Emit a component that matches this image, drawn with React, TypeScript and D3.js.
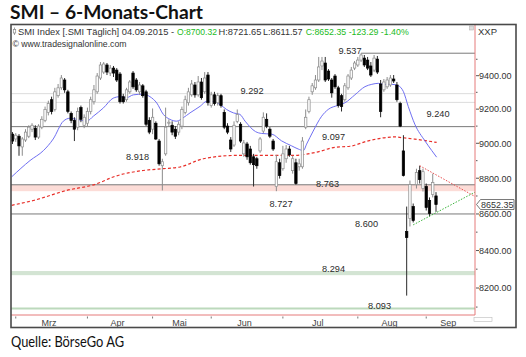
import React from "react";
import * as d3 from "d3";

const W = 526;
const H = 357;

// Daily OHLC, 27.02.2015 .. 04.09.2015 (131 trading days)
const open = [
  9053, 9025, 9041, 8979, 9019, 9041, 9082, 9088, 9036, 9094,
  9134, 9181, 9256, 9198, 9280, 9327, 9374, 9303, 9175, 9134,
  9094, 9209, 9105, 9117, 9186, 9244, 9303, 9386, 9422, 9465,
  9416, 9446, 9434, 9410, 9274, 9256, 9303, 9416, 9374, 9303,
  9339, 9303, 9134, 9082, 9117, 9013, 8871, 8939, 9117, 9105,
  9082, 9065, 9100, 9181, 9238, 9285, 9344, 9285, 9362, 9303,
  9404, 9221, 9285, 9238, 9280, 9181, 9100, 9019, 8990, 9128,
  9111, 8939, 8996, 8967, 8922, 8911, 8956, 9071, 9140, 9082,
  9013, 8753, 8888, 8854, 8911, 8967, 8843, 8888, 8865, 8865,
  9094, 9186, 9303, 9327, 9374, 9459, 9477, 9428, 9374, 9398,
  9327, 9280, 9256, 9327, 9386, 9446, 9465, 9495, 9507, 9495,
  9459, 9434, 9501, 9350, 9315, 9333, 9344, 9380, 9344, 9233,
  8956, 8503, 8575, 8641, 8764, 8843, 8742, 8753, 8675, 8708,
  8700.32,
];
const high = [
  9065, 9059, 9053, 9036, 9082, 9105, 9117, 9105, 9111, 9158,
  9215, 9250, 9274, 9327, 9350, 9404, 9386, 9315, 9186, 9152,
  9209, 9221, 9169, 9209, 9274, 9344, 9416, 9483, 9483, 9477,
  9465, 9459, 9446, 9422, 9291, 9327, 9374, 9428, 9386, 9362,
  9350, 9315, 9152, 9204, 9128, 9025, 8911, 9209, 9140, 9128,
  9100, 9128, 9215, 9280, 9327, 9374, 9362, 9398, 9386, 9422,
  9422, 9303, 9303, 9297, 9291, 9198, 9117, 9036, 9128, 9198,
  9123, 9019, 9008, 8985, 8939, 8922, 9036, 9181, 9175, 9094,
  9025, 8933, 8911, 8985, 8990, 8985, 8928, 8911, 8911, 9036,
  9198, 9274, 9356, 9404, 9514, 9514, 9514, 9440, 9386, 9410,
  9339, 9291, 9356, 9410, 9453, 9489, 9514, 9537, 9526, 9514,
  9483, 9526, 9520, 9374, 9380, 9392, 9404, 9404, 9362, 9244,
  9047, 8641, 8787, 8658, 8854, 8871, 8854, 8770, 8692, 8826,
  8721.65,
];
const low = [
  8996, 9008, 8928, 8928, 9008, 9030, 9065, 9019, 9025, 9082,
  9123, 9163, 9169, 9186, 9268, 9315, 9297, 9175, 9117, 9013,
  9076, 9123, 9088, 9100, 9169, 9227, 9291, 9374, 9410, 9404,
  9398, 9392, 9362, 9233, 9233, 9244, 9291, 9321, 9303, 9285,
  9268, 9100, 9053, 9053, 9019, 8871, 8731, 8928, 9100, 9047,
  9025, 9047, 9082, 9169, 9221, 9274, 9268, 9274, 9256, 9291,
  9221, 9209, 9221, 9221, 9209, 9082, 9053, 8950, 8979, 9117,
  9002, 8922, 8905, 8877, 8753, 8854, 8945, 9059, 9088, 9030,
  8956, 8727, 8798, 8843, 8888, 8922, 8826, 8763, 8843, 8854,
  9082, 9175, 9285, 9315, 9362, 9434, 9362, 9368, 9268, 9321,
  9209, 9186, 9244, 9315, 9374, 9434, 9453, 9483, 9453, 9434,
  9392, 9422, 9410, 9152, 9303, 9321, 9333, 9356, 9244, 9094,
  8810, 8160, 8531, 8553, 8742, 8770, 8725, 8619, 8586, 8692,
  8611.57,
];
const close = [
  9013, 9047, 8985, 9025, 9065, 9094, 9105, 9036, 9100, 9140,
  9198, 9233, 9186, 9303, 9327, 9386, 9315, 9186, 9134, 9082,
  9186, 9140, 9152, 9186, 9256, 9315, 9398, 9465, 9471, 9422,
  9446, 9416, 9374, 9244, 9244, 9315, 9362, 9333, 9315, 9344,
  9280, 9111, 9065, 9152, 9025, 8882, 8894, 9094, 9123, 9065,
  9041, 9111, 9198, 9256, 9303, 9350, 9285, 9362, 9268, 9386,
  9238, 9285, 9233, 9280, 9221, 9094, 9065, 8967, 9105, 9169,
  9013, 9002, 8922, 8888, 8877, 8871, 9025, 9152, 9100, 9041,
  8967, 8894, 8815, 8939, 8967, 8933, 8911, 8770, 8882, 9013,
  9152, 9256, 9339, 9374, 9453, 9489, 9374, 9380, 9297, 9333,
  9221, 9215, 9339, 9398, 9434, 9477, 9495, 9526, 9465, 9446,
  9404, 9507, 9422, 9186, 9362, 9374, 9386, 9368, 9256, 9100,
  8815, 8470, 8764, 8564, 8832, 8792, 8837, 8636, 8603, 8776,
  8652.35,
];

const monthLabels = ["Mrz", "Apr", "Mai", "Jun", "Jul", "Aug", "Sep"];
const monthStart = [1, 23, 43, 61, 83, 106, 127];
const lastVisibleIdx = 142;

const yTicks = [8200, 8400, 8600, 8800, 9000, 9200, 9400];
const yMinorTicks = [8100, 8300, 8500, 8700, 8900, 9100, 9300, 9500];

// 20-day moving average (blue) and 200-day moving average (red dashed): [index, value]
const maFast: [number, number][] = [
  [-0.25, 8808], [5.4, 8901], [9.5, 8958], [12.5, 9025], [15.6, 9129], [17.6, 9146],
  [19.7, 9140], [22.8, 9129], [24.8, 9158], [27.9, 9207], [30.9, 9265], [33, 9274],
  [35, 9268], [37.1, 9285], [40.1, 9289], [42.2, 9274], [44.3, 9236], [46.3, 9169],
  [48.3, 9140], [50.4, 9129], [52.4, 9149], [54.5, 9178], [57.6, 9217], [59.6, 9246],
  [61.6, 9246], [63.7, 9227], [65.7, 9198], [67.8, 9178], [69.8, 9169], [71.4, 9129],
  [74.6, 9068], [76.5, 9057], [79.6, 9053], [82.6, 9014], [85.7, 8985], [87.7, 8967],
  [89.3, 8958], [90.3, 8996], [92.3, 9071], [94.9, 9158], [96.9, 9198], [100, 9223],
  [102.1, 9238], [105.1, 9285], [108.2, 9334], [110.3, 9348], [112.3, 9354], [113.8, 9348],
  [116.4, 9348], [118.4, 9340], [120, 9304], [121.5, 9215], [123.5, 9111], [126.6, 9014],
  [128.7, 8958], [130.2, 8920],
];
const maSlow: [number, number][] = [
  [-0.25, 8648], [6.4, 8675], [16.6, 8731], [25.8, 8768], [30.9, 8807], [40.1, 8844],
  [46.3, 8854], [51.4, 8864], [58.6, 8911], [68.8, 8930], [86.1, 8930], [93.4, 8949],
  [99, 8977], [103.6, 8983], [109.2, 9014], [117.4, 9037], [119.5, 9033], [123.5, 9024],
  [130.2, 9005],
];

const trendDown: [number, number][] = [[125, 8871], [142, 8697]];
const trendUp: [number, number][] = [[123, 8540], [142, 8722]];

// Support / resistance levels
const levelValues = [9537, 9292, 9240, 9097, 8918, 8763, 8727, 8600, 8294, 8093];
const levelLabels = ["9.537", "9.292", "9.240", "9.097", "8.918", "8.763", "8.727", "8.600", "8.294", "8.093"];
const lastClose = 8652.35;

// layout (pixels)
const PL = 11, PR = 475, PT = 25, PB = 315;
const labelLayout: Record<string, { cx: number; dy: number }> = {
  "9.537": { cx: 350, dy: -2 },
  "9.292": { cx: 252, dy: -3 },
  "9.240": { cx: 438, dy: 11 },
  "9.097": { cx: 333.5, dy: 10.5 },
  "8.918": { cx: 137.5, dy: -0.5 },
  "8.763": { cx: 327.5, dy: -1 },
  "8.727": { cx: 281, dy: 12.5 },
  "8.600": { cx: 366.5, dy: 9.5 },
  "8.294": { cx: 333.5, dy: -1.2 },
  "8.093": { cx: 379.5, dy: -2.6 },
};

const FONT = "'Liberation Sans', Arial, sans-serif";

export default function App() {
  const x = d3.scaleLinear().domain([0, 130]).range([12.5, 436]);
  const y = d3.scaleLog().domain([8200, 9400]).range([288, 75.7]);

  const line = d3
    .line<[number, number]>()
    .x((d) => x(d[0]))
    .y((d) => y(d[1]));
  const smooth = d3
    .line<[number, number]>()
    .x((d) => x(d[0]))
    .y((d) => y(d[1]))
    .curve(d3.curveMonotoneX);

  const yLast = y(lastClose);

  return (
    <svg
      width={W}
      height={H}
      viewBox={`0 0 ${W} ${H}`}
      style={{ position: "absolute", left: 0, top: 0, background: "#fff" }}
      fontFamily={FONT}
    >
      <rect x={0} y={0} width={W} height={H} fill="#fff" />
      {/* Title */}
      <text x={10} y={18.5} fontFamily="Lato, 'Open Sans', sans-serif" fontWeight="bold" fontSize={19.5} textLength={193} lengthAdjust="spacingAndGlyphs" fill="#111">
        SMI – 6-Monats-Chart
      </text>

      <defs>
        <clipPath id="plotClip">
          <rect x={PL} y={PT} width={PR - PL} height={PB - PT} />
        </clipPath>
      </defs>

      {/* support / resistance bands and lines */}
      <g clipPath="url(#plotClip)">
        <rect x={PL} y={y(8763)} width={PR - PL} height={y(8727) - y(8763)} fill="#fcdcd7" />
        <rect x={PL} y={y(8290)} width={PR - PL} height={y(8268) - y(8290)} fill="#d3e4d3" />
        <line x1={PL} x2={PR} y1={y(8093)} y2={y(8093)} stroke="#bcd9bc" strokeWidth={2} />
        <line x1={PL} x2={PR} y1={y(9292)} y2={y(9292)} stroke="#dcdcdc" strokeWidth={1} />
        <line x1={PL} x2={PR} y1={y(9240)} y2={y(9240)} stroke="#dcdcdc" strokeWidth={1} />
        <line x1={PL} x2={PR} y1={y(9097)} y2={y(9097)} stroke="#7a7a7a" strokeWidth={1} />
        <line x1={PL} x2={PR} y1={y(8763)} y2={y(8763)} stroke="#7a7a7a" strokeWidth={1} />
        <line x1={PL} x2={PR} y1={y(8600)} y2={y(8600)} stroke="#7a7a7a" strokeWidth={1} />
        <line x1={x(107)} x2={PR} y1={y(9537)} y2={y(9537)} stroke="#7a7a7a" strokeWidth={1} />

        {/* 200-day MA */}
        <path d={smooth(maSlow) || ""} fill="none" stroke="#e8302a" strokeWidth={1.2} strokeDasharray="3,2.2" />
        {/* 20-day MA */}
        <path d={smooth(maFast) || ""} fill="none" stroke="#6f6ff2" strokeWidth={1} />

        {/* candles */}
        {open.map((o, i) => {
          const c = close[i];
          const up = c >= o;
          const cx = x(i);
          const yt = y(Math.max(o, c));
          const yb = y(Math.min(o, c));
          return (
            <g key={i}>
              <line x1={cx} x2={cx} y1={y(high[i])} y2={y(low[i])} stroke={up ? "#8c8c8c" : "#2a2a2a"} strokeWidth={1} />
              <rect
                x={cx - 1.2}
                y={yt}
                width={2.4}
                height={Math.max(yb - yt, 0.8)}
                fill={up ? "#fbfbfb" : "#000"}
                stroke={up ? "#8c8c8c" : "#000"}
                strokeWidth={0.7}
              />
            </g>
          );
        })}

        {/* triangle trend lines */}
        <path d={line(trendDown) || ""} fill="none" stroke="#e85050" strokeWidth={1} strokeDasharray="1.5,1.5" />
        <path d={line(trendUp) || ""} fill="none" stroke="#3cb43c" strokeWidth={1} strokeDasharray="1.5,1.5" />
      </g>

      {/* level labels */}
      {levelValues.map((v, k) => {
        const lab = levelLabels[k];
        const L = labelLayout[lab];
        return (
          <text key={lab} x={L.cx} y={y(v) + L.dy + 3.2} textAnchor="middle" fontSize={9.2} fill="#2b2b2b">
            {lab}
          </text>
        );
      })}

      {/* header */}
      <g fontSize={9}>
        <line x1={14.5} x2={14.5} y1={27.5} y2={35} stroke="#888" strokeWidth={0.8} />
        <rect x={13.3} y={29.5} width={2.4} height={3.5} fill="#fff" stroke="#888" strokeWidth={0.7} />
        <text x={18} y={34.5} fill="#333" textLength={156} lengthAdjust="spacingAndGlyphs">SMI Index [.SMI  Täglich] 04.09.2015 -</text>
        <text x={177} y={34.5} fill="#22bb22" textLength={40} lengthAdjust="spacingAndGlyphs">O:8700.32</text>
        <text x={218.5} y={34.5} fill="#333" textLength={43} lengthAdjust="spacingAndGlyphs">H:8721.65</text>
        <text x={263} y={34.5} fill="#333" textLength={39.5} lengthAdjust="spacingAndGlyphs">L:8611.57</text>
        <text x={305.7} y={34.5} fill="#22bb22" textLength={103} lengthAdjust="spacingAndGlyphs">C:8652.35 -123.29 -1.40%</text>
        <text x={12.5} y={46.5} fill="#333" textLength={114} lengthAdjust="spacingAndGlyphs">© www.tradesignalonline.com</text>
        <rect x={469.5} y={26} width={4} height={4} fill="#ddd" stroke="#aaa" strokeWidth={0.5} />
        <text x={478} y={34.5} fill="#333" fontSize={9.5}>XXP</text>
      </g>

      {/* plot border (red) */}
      <line x1={PR} x2={PR} y1={PT} y2={PB} stroke="#e57a7a" strokeWidth={1} />
      <line x1={PL} x2={PR} y1={PB} y2={PB} stroke="#e57a7a" strokeWidth={1} />

      {/* right axis */}
      <g fontSize={9} fill="#333">
        {yMinorTicks.map((v) => (
          <line key={"m" + v} x1={PR + 1} x2={PR + 2.5} y1={y(v)} y2={y(v)} stroke="#555" strokeWidth={1} />
        ))}
        {yTicks.map((v) => (
          <g key={v}>
            <line x1={PR + 1} x2={PR + 4} y1={y(v)} y2={y(v)} stroke="#555" strokeWidth={1} />
            <text x={479} y={y(v) + 3.3}>{d3.format(".2f")(v)}</text>
          </g>
        ))}
        <path
          d={`M${PR + 1.5},${yLast} L${PR + 5.5},${yLast - 5} L514,${yLast - 5} L514,${yLast + 5} L${PR + 5.5},${yLast + 5} Z`}
          fill="#fff"
          stroke="#555"
          strokeWidth={0.8}
        />
        <text x={481} y={yLast + 3.2}>{d3.format(".2f")(lastClose)}</text>
      </g>

      {/* x axis */}
      <g fontSize={9} fill="#444">
        {monthStart.map((s, k) => {
          const next = k + 1 < monthStart.length ? monthStart[k + 1] : lastVisibleIdx;
          return (
            <g key={monthLabels[k]}>
              <line x1={x(s)} x2={x(s)} y1={PB + 1.5} y2={PB + 3.5} stroke="#777" strokeWidth={1} />
              <text x={x((s + next) / 2) - 2.5} y={326} textAnchor="middle">{monthLabels[k]}</text>
            </g>
          );
        })}
        <rect x={474} y={317.5} width={18} height={4} fill="none" stroke="#bbb" strokeWidth={0.6} />
      </g>

      {/* outer frame */}
      <rect x={11} y={24.5} width={505} height={303} fill="none" stroke="#4a4a4a" strokeWidth={1.6} />

      {/* source */}
      <text x={11} y={346.5} fontFamily="Lato, 'Open Sans', sans-serif" fontSize={14.5} textLength={113} lengthAdjust="spacingAndGlyphs" fill="#111">
        Quelle: BörseGo AG
      </text>
    </svg>
  );
}
